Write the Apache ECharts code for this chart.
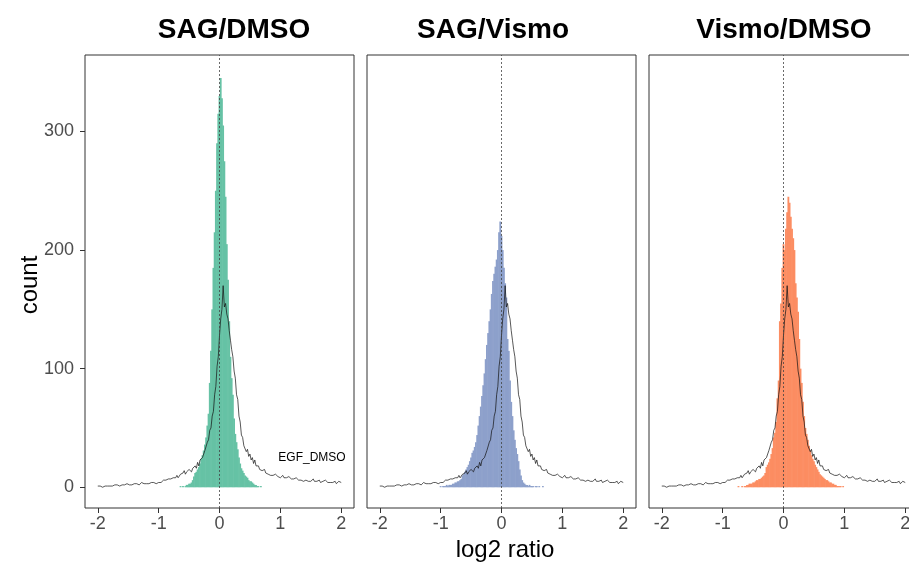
<!DOCTYPE html>
<html><head><meta charset="utf-8">
<script src="https://cdn.jsdelivr.net/npm/echarts@6/dist/echarts.min.js"></script>
<style>html,body{margin:0;padding:0;background:#fff}#c{width:909px;height:566px}</style>
</head><body><div id="c"></div>
<script>
// ---- data ----
const panelTitles = ['SAG/DMSO', 'SAG/Vismo', 'Vismo/DMSO'];
const xTicks = [-2, -1, 0, 1, 2];
const yTicks = [0, 100, 200, 300];
const binWidth = 0.02;
const egfStart = -2.0;   // first bin centre of the EGF_DMSO reference curve
const histStart = -1.0;  // first bin centre of the coloured histograms
const egfDmso = [
 1,0,1,1,0,1,1,2,1,1,
 1,2,1,1,2,1,2,2,1,2,
 2,1,2,2,3,2,2,3,2,2,
 3,2,3,3,2,3,4,3,3,2,
 3,4,3,3,4,3,4,4,3,4,
 4,5,4,5,6,5,6,5,7,6,
 7,6,8,7,8,10,8,9,11,10,
 12,14,11,13,12,15,14,13,16,17,
 18,16,21,18,23,22,25,26,31,30,
 38,40,48,50,60,64,78,85,102,110,
 128,
 142,150,170,152,155,146,142,132,124,116,
 110,98,92,78,74,60,55,44,42,35,
 36,30,32,26,28,23,25,20,23,18,
 17,18,15,16,14,13,15,12,13,11,
 12,10,11,10,9,11,10,9,10,8,
 9,10,8,9,8,7,9,8,7,8,
 7,6,8,7,6,7,6,7,5,6,
 6,7,5,6,5,6,7,5,6,5,
 5,6,4,5,5,4,6,5,4,5,
 4,5,4,4,5,3,4,5,4,4
];
const sagDmso = [
 0,0,0,0,0,0,0,0,0,0,
 0,0,0,0,0,0,0,0,1,0,
 1,0,1,2,2,3,3,4,6,9,
 12,13,15,17,20,24,27,31,36,42,
 52,62,88,115,150,185,215,250,290,315,
 330,
 345,328,305,275,245,205,175,140,110,92,
 78,58,45,38,32,25,20,16,14,12,
 10,9,8,6,5,5,4,3,2,2,
 1,1,0,1,0,0,0,0,0,0,
 0,0,0,0,0,0,0,0,0,0
];
const sagVismo = [
 1,0,1,1,1,2,1,2,2,2,
 3,3,4,4,5,5,6,7,10,11,
 13,15,17,19,22,25,29,31,34,38,
 44,52,60,68,77,86,96,108,120,130,
 140,150,163,174,180,186,192,200,215,224,
 212,
 200,185,172,160,125,115,90,72,60,48,
 40,33,28,22,15,10,6,4,3,2,
 2,1,2,1,1,1,0,1,1,0,
 1,0,0,1,0,0,0,0,0,0,
 0,0,0,0,0,0,0,0,0,0
];
const vismoDmso = [
 0,0,0,0,0,0,0,0,0,0,
 0,0,0,1,0,0,1,0,1,1,
 2,2,3,3,3,4,4,5,6,6,
 7,7,8,9,10,12,17,19,21,24,
 28,33,42,46,55,75,90,140,155,185,
 205,
 200,218,232,245,240,228,218,210,200,172,
 160,148,125,100,88,72,60,50,45,40,
 35,31,27,24,22,19,17,15,13,11,
 10,9,8,7,6,6,5,4,4,3,
 3,2,2,1,1,1,1,0,1,0
];
const panelCounts = [sagDmso, sagVismo, vismoDmso];
const panelColors = ['#66C2A5', '#8DA0CB', '#FC8D62'];

// ---- layout ----
const FONT = 'Liberation Sans, Arial, sans-serif';
const gridLefts = [85, 367, 649];
const gridTop = 55, gridW = 269, gridH = 453;
const titleCenters = [234, 493, 784];

const chart = echarts.init(document.getElementById('c'), null, {renderer: 'canvas'});

const grids = [], xAxes = [], yAxes = [], series = [];
gridLefts.forEach((l, i) => {
  grids.push({left: l, top: gridTop, width: gridW, height: gridH, show: true,
    borderColor: '#333', borderWidth: 1, backgroundColor: 'rgba(0,0,0,0)',
    containLabel: false, outerBoundsMode: 'none'});
  xAxes.push({type: 'value', gridIndex: i, min: -2.21, max: 2.21, position: 'bottom',
    splitLine: {show: false}, axisLine: {show: false, onZero: false},
    axisTick: {show: true, length: 5, lineStyle: {color: '#333', width: 1}, customValues: xTicks},
    axisLabel: {customValues: xTicks, color: '#4d4d4d', fontSize: 18, fontFamily: FONT, margin: 7}});
  yAxes.push({type: 'value', gridIndex: i, min: -17.5, max: 364.5, position: 'left',
    splitLine: {show: false}, axisLine: {show: false, onZero: false},
    axisTick: {show: i === 0, length: 5, lineStyle: {color: '#333', width: 1}, customValues: yTicks},
    axisLabel: {show: i === 0, customValues: yTicks, color: '#4d4d4d', fontSize: 18, fontFamily: FONT, margin: 11}});
  const counts = panelCounts[i], color = panelColors[i];
  series.push({type: 'custom', xAxisIndex: i, yAxisIndex: i, silent: true, clip: true,
    data: counts.map((c, k) => [histStart + k * binWidth, c]),
    renderItem: (params, api) => {
      const x = api.value(0), y = api.value(1);
      if (!y) return null;
      const p1 = api.coord([x - binWidth / 2, y]);
      const p2 = api.coord([x + binWidth / 2, 0]);
      return {type: 'rect', shape: {x: p1[0] - 0.3, y: p1[1], width: p2[0] - p1[0] + 0.6, height: p2[1] - p1[1]},
        style: {fill: color}};
    }});
  series.push({type: 'line', xAxisIndex: i, yAxisIndex: i, silent: true, symbol: 'none',
    data: egfDmso.map((c, k) => [egfStart + k * binWidth, c]),
    lineStyle: {color: '#111', width: 0.7},
    markLine: {silent: true, symbol: ['none', 'none'], label: {show: false},
      lineStyle: {color: '#444', type: [2, 2], width: 0.8}, data: [{xAxis: 0}]}});
});

const graphics = panelTitles.map((t, i) => ({type: 'text', x: titleCenters[i], y: 30,
  style: {text: t, font: 'bold 28px ' + FONT, fill: '#000', align: 'center', verticalAlign: 'middle'}}));
graphics.push({type: 'text', x: 30, y: 285, rotation: Math.PI / 2,
  style: {text: 'count', font: '24px ' + FONT, fill: '#000', align: 'center', verticalAlign: 'middle'}});
graphics.push({type: 'text', x: 505, y: 550,
  style: {text: 'log2 ratio', font: '24px ' + FONT, fill: '#000', align: 'center', verticalAlign: 'middle'}});
graphics.push({type: 'text', x: 312, y: 458,
  style: {text: 'EGF_DMSO', font: '12px ' + FONT, fill: '#000', align: 'center', verticalAlign: 'middle'}});

chart.setOption({animation: false, grid: grids, xAxis: xAxes, yAxis: yAxes, series: series, graphic: graphics});
</script></body></html>
